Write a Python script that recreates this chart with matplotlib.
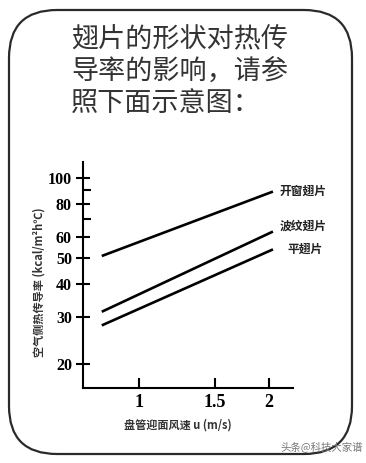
import matplotlib
matplotlib.use("Agg")
import matplotlib.pyplot as plt
import matplotlib.ticker as ticker
from matplotlib.patches import FancyBboxPatch

plt.rcParams['font.family'] = ['Noto Sans CJK SC', 'DejaVu Sans']

TITLE_LINES = ["翅片的形状对热传", "导率的影响，请参", "照下面示意图："]
SERIES = ["开窗翅片", "波纹翅片", "平翅片"]
VELOCITY = [0.82, 2.04]              # m/s, start / end of each line
COEF_START = [51, 31.5, 28]
COEF_END = [89, 63, 54]
YTICKS = [20, 30, 40, 50, 60, 80, 100]
YMINOR = [70, 90]
XTICKS = [1, 1.5, 2]
XTICKLABELS = ["1", "1.5", "2"]
XLABEL = "盘管迎面风速 u (m/s)"
YLABEL = "空气侧热传导率 (kcal/m²h℃)"
WATERMARK = "头条@科技大家谱"

fig = plt.figure(figsize=(3.66, 4.63), dpi=100)
fig.patch.set_facecolor("white")

# background layer in pixel units for the rounded frame and title
bg = fig.add_axes([0, 0, 1, 1])
bg.set_xlim(0, 366)
bg.set_ylim(463, 0)
bg.axis("off")
frame = FancyBboxPatch((9, 10), 343, 444, boxstyle="round,pad=0,rounding_size=48",
                       facecolor="none", edgecolor="#2a2a2a", linewidth=1.6)
bg.add_patch(frame)
for i, line in enumerate(TITLE_LINES):
    bg.text(71, 40 + i * 31.5, line, fontsize=19.5, color="#333333",
            fontweight="light", ha="left", va="center")
bg.text(363, 448, WATERMARK, fontsize=7.5, color="#777777", ha="right", va="center")

# main chart
ax = fig.add_axes([83 / 366, 1 - 388 / 463, 210 / 366, 226 / 463])
ax.set_xscale("log")
ax.set_yscale("log")
ax.set_xlim(0.742, 2.27)
ax.set_ylim(16.3, 114.9)
ax.patch.set_alpha(0)

for s in ("top", "right"):
    ax.spines[s].set_visible(False)
for s in ("left", "bottom"):
    ax.spines[s].set_linewidth(1.5)
    ax.spines[s].set_color("black")

offsets = [(7, 0), (7, 5), (15, 0)]
for name, y0, y1, off in zip(SERIES, COEF_START, COEF_END, offsets):
    ax.plot(VELOCITY, [y0, y1], color="black", linewidth=1.9, solid_capstyle="butt")
    ax.annotate(name, xy=(VELOCITY[1], y1), xytext=off, textcoords="offset pixels",
                fontsize=8.5, fontweight="bold", color="#222222", va="center", ha="left")

ax.yaxis.set_major_locator(ticker.FixedLocator(YTICKS))
ax.yaxis.set_major_formatter(ticker.FixedFormatter([str(v) for v in YTICKS]))
ax.yaxis.set_minor_locator(ticker.FixedLocator(YMINOR))
ax.yaxis.set_minor_formatter(ticker.NullFormatter())
ax.xaxis.set_major_locator(ticker.FixedLocator(XTICKS))
ax.xaxis.set_major_formatter(ticker.FixedFormatter(XTICKLABELS))
ax.xaxis.set_minor_locator(ticker.NullLocator())

ax.tick_params(axis="y", which="major", direction="inout", length=10, width=1.5, pad=3)
ax.tick_params(axis="y", which="minor", direction="in", length=6, width=1.5)
ax.tick_params(axis="x", which="major", direction="in", length=7, width=1.5, pad=4)
for lab in ax.get_yticklabels():
    lab.set_family("Liberation Serif")
    lab.set_fontweight("bold")
    lab.set_fontsize(11.5)
for lab in ax.get_xticklabels():
    lab.set_family("Liberation Serif")
    lab.set_fontweight("bold")
    lab.set_fontsize(13)

ax.set_xlabel(XLABEL, fontsize=8, fontweight="bold", color="#333333")
ax.xaxis.set_label_coords(0.45, -0.135)
ax.set_ylabel(YLABEL, fontsize=8, fontweight="bold", color="#333333")
ax.yaxis.set_label_coords(-0.18, 0.47)

fig.savefig("out.png", dpi=100)
